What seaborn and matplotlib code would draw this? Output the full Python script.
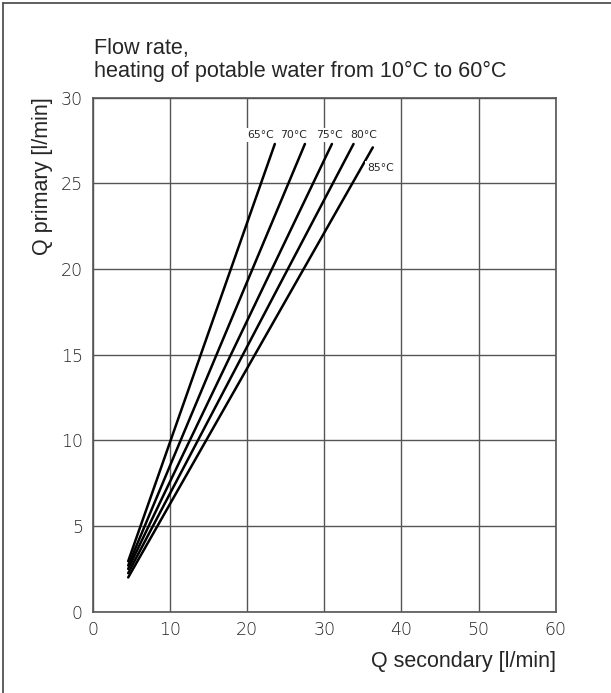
import pandas as pd
import matplotlib.pyplot as plt
import seaborn as sns
from matplotlib.lines import Line2D

# Datos: caudal secundario vs primario por temperatura
temps = ['65°C', '70°C', '75°C', '80°C', '85°C']
q_sec_start = [4.6, 4.6, 4.6, 4.6, 4.6]
q_prim_start = [2.95, 2.7, 2.5, 2.25, 2.0]
q_sec_end = [23.6, 27.5, 31.0, 33.8, 36.3]
q_prim_end = [27.3, 27.3, 27.3, 27.3, 27.1]

# posiciones de las etiquetas
label_x = [21.7, 26.0, 30.7, 35.1, 37.3]
label_y = [27.8, 27.8, 27.8, 27.8, 25.9]

rows = []
for t, xs, ys, xe, ye in zip(temps, q_sec_start, q_prim_start, q_sec_end, q_prim_end):
    rows.append({'Qs': xs, 'Qp': ys, 'temp': t})
    rows.append({'Qs': xe, 'Qp': ye, 'temp': t})
df = pd.DataFrame(rows)

sns.set_style('white')
plt.rcParams['font.family'] = ['Liberation Sans', 'DejaVu Sans']

fig = plt.figure(figsize=(6.11, 6.93), dpi=100)
ax = fig.add_axes([0.1517, 0.1173, 0.7578, 0.7417])

sns.lineplot(data=df, x='Qs', y='Qp', hue='temp', palette=['black'] * 5,
             legend=False, linewidth=1.8, ax=ax, zorder=3)

for t, lx, ly in zip(temps, label_x, label_y):
    ax.text(lx, ly, t, fontsize=7.8, family='DejaVu Sans', ha='center', va='center',
            zorder=4, bbox=dict(facecolor='white', edgecolor='none', pad=1.5))

ax.set_xlim(0, 60)
ax.set_ylim(0, 30)
ax.set_xticks(range(0, 61, 10))
ax.set_yticks(range(0, 31, 5))
ax.grid(True, color='#555555', linewidth=1.0)
for s in ax.spines.values():
    s.set_color('#555555')
    s.set_linewidth(1.2)
ax.tick_params(length=0, pad=7, labelsize=12.5, labelcolor='#222222')
for lab in ax.get_xticklabels() + ax.get_yticklabels():
    lab.set_family('DejaVu Sans')
    lab.set_fontweight('light')

ax.set_xlabel('Q secondary [l/min]', fontsize=15.5, loc='right', labelpad=8)
ax.set_ylabel('Q primary [l/min]', fontsize=15.5, loc='top', labelpad=6)

# titulo en dos lineas
fig.text(94 / 611, 1 - 54 / 693, 'Flow rate,', fontsize=15.6, va='baseline', ha='left')
fig.text(94 / 611, 1 - 77 / 693, 'heating of potable water from 10°C to 60°C',
         fontsize=15.6, va='baseline', ha='left')

# borde del marco (arriba e izquierda)
fig.add_artist(Line2D([3 / 611, 3 / 611], [0, 1 - 3 / 693], transform=fig.transFigure,
                      color='#444444', linewidth=1.2))
fig.add_artist(Line2D([3 / 611, 1], [1 - 3 / 693, 1 - 3 / 693], transform=fig.transFigure,
                      color='#444444', linewidth=1.2))

plt.savefig('out.png', dpi=100)
